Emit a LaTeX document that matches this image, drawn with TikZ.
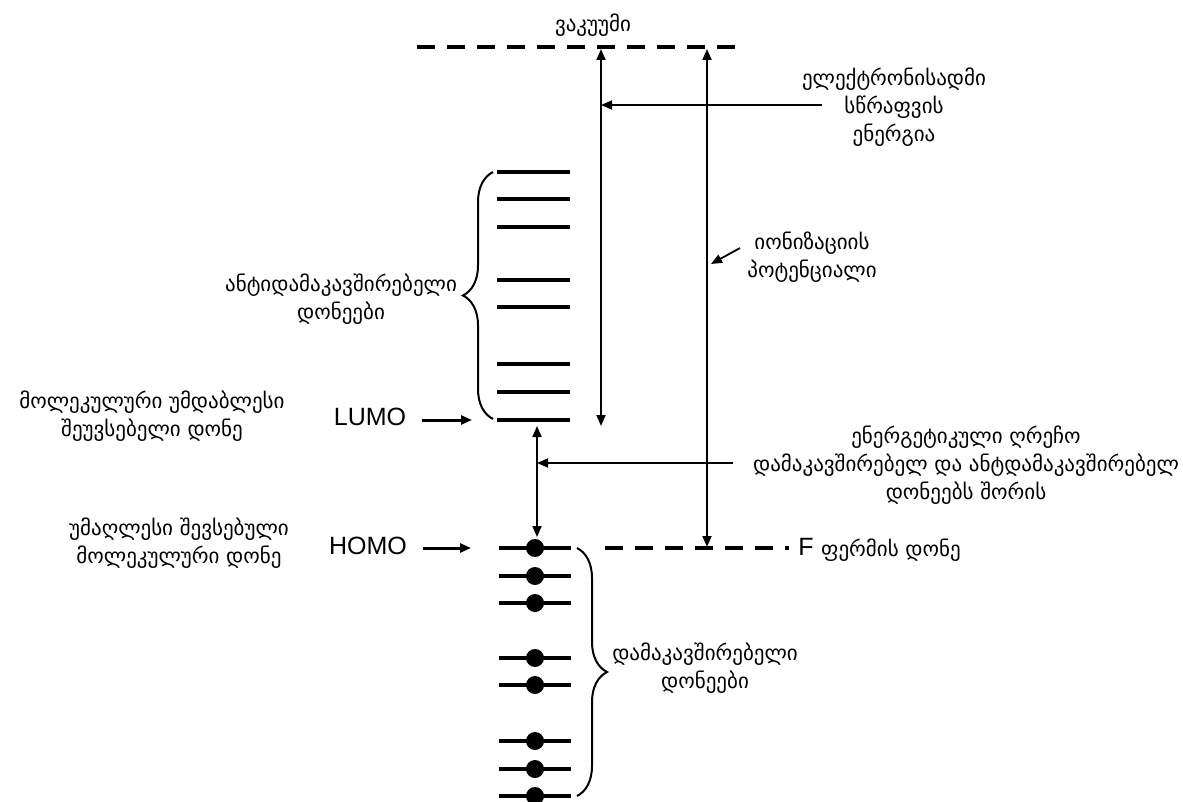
\documentclass[tikz,border=0pt]{standalone}
\usepackage{fontspec}
\setmainfont{DejaVu Sans}
\newfontfamily\latfont{Liberation Sans}
\usetikzlibrary{arrows.meta,decorations.pathreplacing}
\begin{document}
\begin{tikzpicture}[x=1pt,y=-1pt,
  lvl/.style={line width=4.5pt},
  elec/.style={fill=black, circle, inner sep=0pt, minimum size=18pt},
  tip/.style={-{Triangle[length=11pt,width=9pt]}},
  arr/.style={line width=1.8pt, tip},
  darr/.style={line width=1.8pt, {Triangle[length=11pt,width=9pt]}-{Triangle[length=11pt,width=9pt]}},
  dashline/.style={line width=4pt, dash pattern=on 18pt off 12pt},
  geo/.style={font=\fontsize{21}{28}\selectfont, align=center, inner sep=0pt},
  lab/.style={font=\latfont\fontsize{25}{28}\selectfont, inner sep=0pt},
  brc/.style={decorate, decoration={brace, amplitude=30pt}, line width=2pt}
]
\useasboundingbox (0,0) rectangle (1183,802);

% vacuum level
\coordinate (vacL) at (417,47);
\coordinate (vacR) at (742,47);
\draw[dashline] (vacL) -- (vacR);
\node[geo] (vac) at (593,25) {ვაკუუმი};

% antibonding levels
\foreach \i/\y in {1/172,2/199,3/227,4/280,5/307,6/364,7/392,8/420}{
  \coordinate (aL\i) at (497,\y);
  \coordinate (aR\i) at (570,\y);
  \draw[lvl] (aL\i) -- (aR\i);
}
% bonding levels
\foreach \i/\y in {1/548,2/576,3/603,4/658,5/685,6/741,7/769,8/796}{
  \coordinate (bL\i) at (499,\y);
  \coordinate (bR\i) at (571,\y);
  \draw[lvl] (bL\i) -- (bR\i);
  \node[elec] (e\i) at (535,\y) {};
}

% braces
\coordinate (abTop) at (493,172);
\coordinate (abBot) at (493,419);
\draw[brc] (abBot) -- (abTop);
\coordinate (bTop) at (577,548);
\coordinate (bBot) at (577,796);
\draw[brc] (bTop) -- (bBot);

% Fermi level
\coordinate (fL) at (605,548);
\coordinate (fR) at (789,548);
\draw[line width=3.5pt, dash pattern=on 18pt off 12pt] (fL) -- (fR);
\node[lab] (F) at (806,547) {F};
\node[geo, anchor=west] (fermi) at (821,550) {ფერმის დონე};

% electron affinity
\coordinate (eaT) at (601,49);
\coordinate (eaB) at (601,426);
\draw[darr] (eaT) -- (eaB);
\coordinate (eaP) at (601,105);
\coordinate (eaS) at (822,105);
\draw[arr] (eaS) -- (eaP);
\node[geo] (ealab) at (894,107) {ელექტრონისადმი\\სწრაფვის\\ენერგია};

% ionization potential
\coordinate (ipT) at (707,49);
\coordinate (ipB) at (707,547);
\draw[darr] (ipT) -- (ipB);
\coordinate (ipS) at (740,248);
\coordinate (ipE) at (711,264);
\draw[arr] (ipS) -- (ipE);
\node[geo] (iplab) at (812,257) {იონიზაციის\\პოტენციალი};

% gap
\coordinate (gT) at (537,426);
\coordinate (gB) at (537,537);
\draw[darr] (gT) -- (gB);
\coordinate (gP) at (537,463);
\coordinate (gS) at (733,463);
\draw[arr] (gS) -- (gP);
\node[geo] (gaplab) at (966,465) {ენერგეტიკული ღრეჩო\\დამაკავშირებელ და ანტდამაკავშირებელ\\დონეებს შორის};

% labels
\node[geo] (ablab) at (341,299) {ანტიდამაკავშირებელი\\დონეები};
\node[geo] (blab) at (705,668) {დამაკავშირებელი\\დონეები};

\node[lab] (lumo) at (370,417) {LUMO};
\coordinate (lumoS) at (422,420);
\coordinate (lumoE) at (472,420);
\draw[arr, line width=3pt] (lumoS) -- (lumoE);
\node[geo] (lumolab) at (152,416) {მოლეკულური უმდაბლესი\\შეუვსებელი დონე};

\node[lab] (homo) at (368,546) {HOMO};
\coordinate (homoS) at (423,548);
\coordinate (homoE) at (471,548);
\draw[arr, line width=3pt] (homoS) -- (homoE);
\node[geo] (homolab) at (179,543) {უმაღლესი შევსებული\\მოლეკულური დონე};
\end{tikzpicture}
\end{document}
